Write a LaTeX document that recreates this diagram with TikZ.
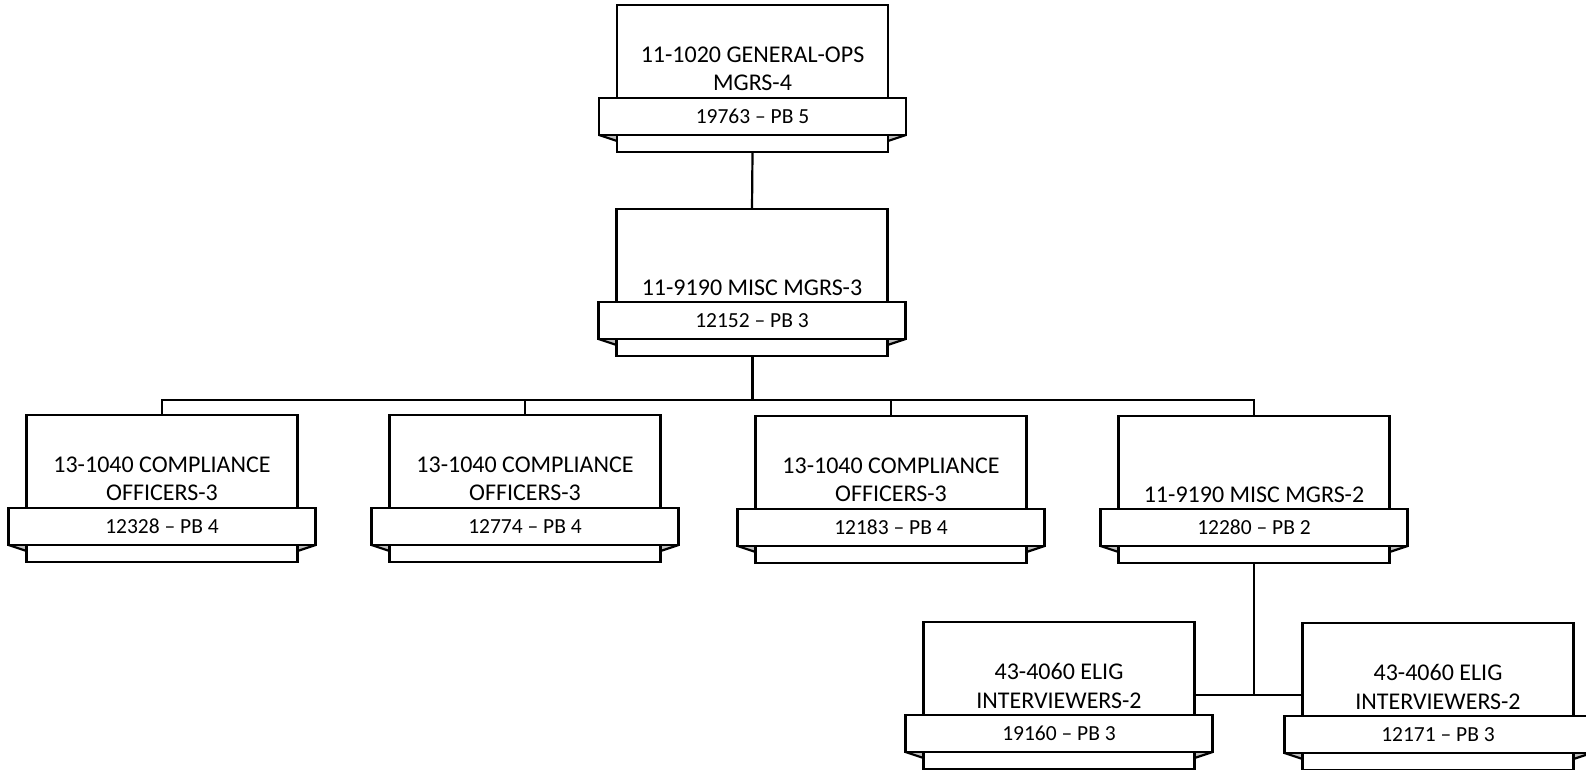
\documentclass[tikz,border=0pt]{standalone}
\usepackage{fontspec}
\setmainfont{Carlito}
\usetikzlibrary{calc}
\pgfdeclarelayer{bg}
\pgfsetlayers{bg,main}
\tikzset{
 mainbox/.style={draw, fill=white, line width=2.2pt, minimum width=271pt, minimum height=147pt, inner sep=0pt, outer sep=0pt},
 bannerbox/.style={draw, fill=white, line width=2.2pt, minimum width=307pt, minimum height=37pt, inner sep=0pt, outer sep=0pt, font=\fontsize{21.5}{26}\selectfont},
 titletext/.style={align=center, inner sep=0pt, font=\fontsize{24}{28.5}\selectfont},
 link/.style={line width=2.2pt},
 foldfill/.style={fill=black!25},
 foldline/.style={line width=2.2pt},
}
\newcommand\orgbox[6]{% name, cx, top, title offset, title, banner
 \node[mainbox, anchor=north] (#1) at (#2,#3) {};
 \node[titletext] (#1t) at ($(#1.north)+(0,-#4pt)$) {#5};
 \node[bannerbox] (#1b) at ($(#1.north)+(0,-111.5pt)$) {#6};
 \coordinate (#1fl) at ($(#1.west |- #1b.south)+(0,-6pt)$);
 \coordinate (#1fr) at ($(#1.east |- #1b.south)+(0,-6pt)$);
 \begin{pgfonlayer}{bg}
 \fill[foldfill] (#1b.south west) -- (#1.west |- #1b.south) -- (#1fl) -- cycle;
 \fill[foldfill] (#1b.south east) -- (#1.east |- #1b.south) -- (#1fr) -- cycle;
 \end{pgfonlayer}
 \draw[foldline] (#1b.south west) -- (#1fl);
 \draw[foldline] (#1b.south east) -- (#1fr);
}
\begin{document}
\begin{tikzpicture}[x=1pt,y=-1pt]
\useasboundingbox (0,0) rectangle (1586,770);
\orgbox{b1}{752.5}{5}{64}{11-1020 GENERAL-OPS\\MGRS-4}{19763 – PB 5}
\orgbox{b2}{752}{209}{79}{11-9190 MISC MGRS-3}{12152 – PB 3}
\orgbox{A}{162}{415}{64}{13-1040 COMPLIANCE\\OFFICERS-3}{12328 – PB 4}
\orgbox{B}{525}{415}{64}{13-1040 COMPLIANCE\\OFFICERS-3}{12774 – PB 4}
\orgbox{C}{891}{416}{64}{13-1040 COMPLIANCE\\OFFICERS-3}{12183 – PB 4}
\orgbox{D}{1254}{416}{79}{11-9190 MISC MGRS-2}{12280 – PB 2}
\orgbox{E}{1059}{622}{64}{43-4060 ELIG\\INTERVIEWERS-2}{19160 – PB 3}
\orgbox{F}{1438}{623}{64}{43-4060 ELIG\\INTERVIEWERS-2}{12171 – PB 3}
\draw[link] (b1.south) -- (b2.north);
\coordinate (bus) at (752,400);
\draw[link, line width=3pt] (b2.south) -- (bus);
\foreach \n in {A,B,C,D} \draw[link] (bus) -| (\n.north);
\coordinate (j) at (1254,695);
\draw[link] (D.south) -- (j);
\draw[link] (E.east |- j) -- (F.west |- j);
\end{tikzpicture}
\end{document}
